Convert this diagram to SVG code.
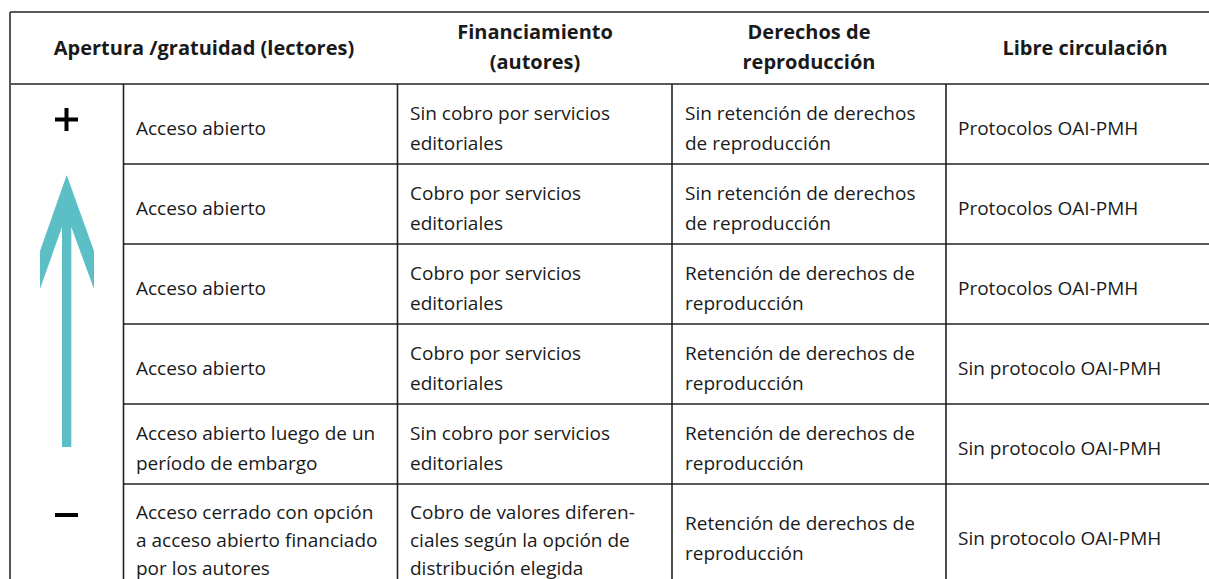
<svg xmlns="http://www.w3.org/2000/svg" width="1209" height="579" viewBox="0 0 1209 579">
<style>
.t{font-family:"Open Sans","Noto Sans","Liberation Sans",sans-serif;font-size:19px;fill:#1a1a1a}
.h{font-family:"Open Sans","Noto Sans","Liberation Sans",sans-serif;font-size:20px;font-weight:bold;fill:#1a1a1a;text-anchor:middle}
.ln{stroke:#222;stroke-width:1.6;fill:none}
</style>
<rect width="1209" height="579" fill="#fff"/>
<g id="grid">
<line class="ln" x1="10" y1="12" x2="1209" y2="12"/>
<line class="ln" x1="10" y1="84" x2="1209" y2="84"/>
<line x1="10" y1="12" x2="10" y2="579" stroke="#555" stroke-width="2"/>
<line class="ln" x1="123.5" y1="84" x2="123.5" y2="579"/>
<line class="ln" x1="397.5" y1="84" x2="397.5" y2="579"/>
<line class="ln" x1="672" y1="84" x2="672" y2="579"/>
<line class="ln" x1="946" y1="84" x2="946" y2="579"/>
<line class="ln" x1="123.5" y1="164" x2="1209" y2="164"/>
<line class="ln" x1="123.5" y1="244" x2="1209" y2="244"/>
<line class="ln" x1="123.5" y1="324" x2="1209" y2="324"/>
<line class="ln" x1="123.5" y1="404" x2="1209" y2="404"/>
<line class="ln" x1="123.5" y1="484" x2="1209" y2="484"/>
</g>
<g id="header">
<text class="h" x="204" y="55">Apertura /gratuidad (lectores)</text>
<text class="h" x="535" y="39">Financiamiento</text>
<text class="h" x="535" y="69">(autores)</text>
<text class="h" x="809" y="39">Derechos de</text>
<text class="h" x="809" y="69">reproducción</text>
<text class="h" x="1085" y="55">Libre circulación</text>
</g>
<g id="scale">
<rect x="55" y="117.5" width="23" height="4" fill="#000"/>
<rect x="64.5" y="108" width="4" height="23" fill="#000"/>
<rect x="55" y="513" width="23" height="4" fill="#000"/>
<path d="M66.7 175 L94 251 L94 289 L71.3 227 L71.3 447 L62 447 L62 227 L40 289 L40 251 Z" fill="#5bbfc5"/>
</g>
<g id="row1">
<text class="t" x="136" y="135">Acceso abierto</text>
<text class="t" x="410" y="120">Sin cobro por servicios</text>
<text class="t" x="410" y="150">editoriales</text>
<text class="t" x="685" y="120">Sin retención de derechos</text>
<text class="t" x="685" y="150">de reproducción</text>
<text class="t" x="958" y="135">Protocolos OAI-PMH</text>
</g>
<g id="row2">
<text class="t" x="136" y="215">Acceso abierto</text>
<text class="t" x="410" y="200">Cobro por servicios</text>
<text class="t" x="410" y="230">editoriales</text>
<text class="t" x="685" y="200">Sin retención de derechos</text>
<text class="t" x="685" y="230">de reproducción</text>
<text class="t" x="958" y="215">Protocolos OAI-PMH</text>
</g>
<g id="row3">
<text class="t" x="136" y="295">Acceso abierto</text>
<text class="t" x="410" y="280">Cobro por servicios</text>
<text class="t" x="410" y="310">editoriales</text>
<text class="t" x="685" y="280">Retención de derechos de</text>
<text class="t" x="685" y="310">reproducción</text>
<text class="t" x="958" y="295">Protocolos OAI-PMH</text>
</g>
<g id="row4">
<text class="t" x="136" y="375">Acceso abierto</text>
<text class="t" x="410" y="360">Cobro por servicios</text>
<text class="t" x="410" y="390">editoriales</text>
<text class="t" x="685" y="360">Retención de derechos de</text>
<text class="t" x="685" y="390">reproducción</text>
<text class="t" x="958" y="375">Sin protocolo OAI-PMH</text>
</g>
<g id="row5">
<text class="t" x="136" y="440">Acceso abierto luego de un</text>
<text class="t" x="136" y="470">período de embargo</text>
<text class="t" x="410" y="440">Sin cobro por servicios</text>
<text class="t" x="410" y="470">editoriales</text>
<text class="t" x="685" y="440">Retención de derechos de</text>
<text class="t" x="685" y="470">reproducción</text>
<text class="t" x="958" y="455">Sin protocolo OAI-PMH</text>
</g>
<g id="row6">
<text class="t" x="136" y="519">Acceso cerrado con opción</text>
<text class="t" x="136" y="547">a acceso abierto financiado</text>
<text class="t" x="136" y="575">por los autores</text>
<text class="t" x="410" y="519">Cobro de valores diferen-</text>
<text class="t" x="410" y="547">ciales según la opción de</text>
<text class="t" x="410" y="575">distribución elegida</text>
<text class="t" x="685" y="530">Retención de derechos de</text>
<text class="t" x="685" y="560">reproducción</text>
<text class="t" x="958" y="545">Sin protocolo OAI-PMH</text>
</g>
</svg>
